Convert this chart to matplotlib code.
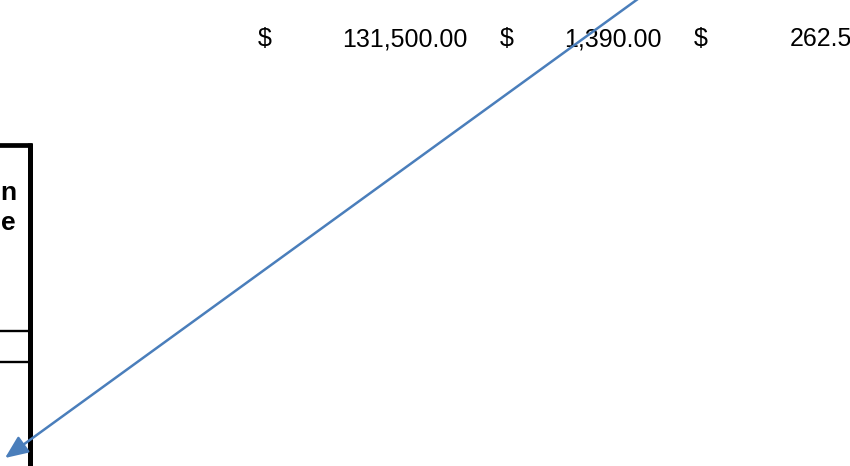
import matplotlib
matplotlib.use("Agg")
import matplotlib.pyplot as plt

# values shown in the spreadsheet row
amounts = [131500.00, 1390.00, 262.50]
header_letters = ["n", "e"]

# layout (pixel coords, y downward)
W, H = 850, 466
dollar_x = [258, 500, 694]
value_right = [468, 662, 866]
row_y = 39

plt.rcParams['font.family'] = ['Liberation Sans', 'DejaVu Sans']

fig = plt.figure(figsize=(W / 100, H / 100), dpi=100)
ax = fig.add_axes([0, 0, 1, 1])
ax.set_xlim(0, W)
ax.set_ylim(H, 0)
ax.axis('off')

for i, v in enumerate(amounts):
    ax.text(dollar_x[i], row_y, "$", fontsize=18, ha='left', va='center')
    ax.text(value_right[i], row_y, f"{v:,.2f}", fontsize=18, ha='right', va='center')

# table border fragment on the left
ax.plot([30, 30], [143, H + 5], color='black', lw=3.6, solid_capstyle='butt')
ax.plot([-2, 32], [145, 145], color='black', lw=3.4, solid_capstyle='butt')
ax.plot([-2, 29], [331, 331], color='black', lw=1.7)
ax.plot([-2, 29], [362, 362], color='black', lw=1.7)

for j, letter in enumerate(header_letters):
    ax.text(16, 193 + j * 30, letter, fontsize=19, fontweight='bold',
            ha='right', va='center')

# blue connector arrow
ax.annotate("", xy=(5, 458), xytext=(642, -4),
            arrowprops=dict(arrowstyle='-|>,head_length=1.4,head_width=0.6',
                            color='#4a7ebb', lw=1.8, shrinkA=0, shrinkB=0))

fig.savefig("out.png", dpi=100)
